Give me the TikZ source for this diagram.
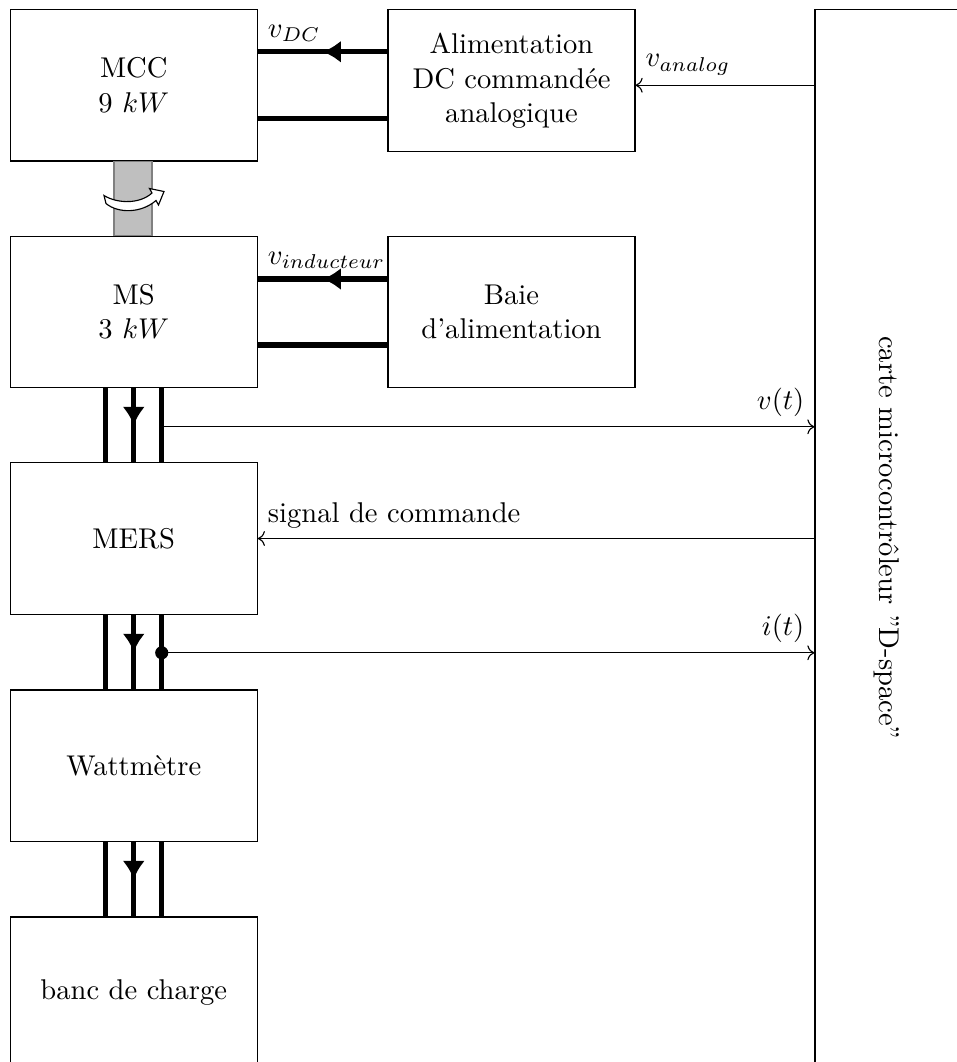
\documentclass[tikz,border=0pt]{standalone}
\usetikzlibrary{arrows.meta,decorations.markings,calc}
\begin{document}
\begin{tikzpicture}[x=0.35pt,y=-0.35pt,
  box/.style={draw, minimum width=86.45pt, minimum height=53pt, align=center, inner sep=0pt},
  power/.style={line width=1.9pt},
  midarrow/.style={decoration={markings, mark=at position 0.5 with {\arrow{Latex[length=6.4pt,width=7.8pt]}}}, postaction={decorate}},
  lbl/.style={inner sep=3.33pt}]
\useasboundingbox (0,0) rectangle (957,1062);
% blocks
\node[box] (MCC) at (133.75,85.25) {MCC\\9 $kW$};
\node[box, minimum height=49.7pt] (ALIM) at (511.5,80.75) {Alimentation\\DC commandée\\analogique};
\node[box] (MS) at (133.75,312) {MS\\3 $kW$};
\node[box] (BAIE) at (511.5,312) {Baie\\d'alimentation};
\node[box] (MERS) at (133.75,538.5) {MERS};
\node[box] (WATT) at (133.75,765.75) {Wattmètre};
\node[box] (BANC) at (133.75,992.75) {banc de charge};
\node[draw, minimum width=50.4pt, minimum height=369.8pt, inner sep=0pt] (DSP) at (887,537.75) {};
\node[rotate=-90] (DSPT) at (DSP.center) {carte microcontrôleur ''D-space''};
% shaft
\draw[fill=gray!50, draw=gray] ($(MCC.south)+(-19.75,0)$) rectangle ($(MS.north)+(18.25,0)$);
\draw[fill=white] (104,195.5) .. controls (118,204) and (140,204) .. (152,193)
  -- (149.5,188.5) -- (164,191.5) -- (158.5,205) -- (156,200.5)
  .. controls (141,213.5) and (118,213.5) .. (106,203.5) -- cycle;
% DC supply
\coordinate (a1) at ($(MCC.east)+(0,-33.5)$);
\coordinate (a2) at ($(MCC.east)+(0,33)$);
\draw[power, midarrow] (ALIM.west |- a1) -- (a1);
\draw[power] (ALIM.west |- a2) -- (a2);
\node[lbl, above right] (ldc) at (a1) {$v_{DC}$};
% field supply
\coordinate (b1) at ($(MS.east)+(0,-33)$);
\coordinate (b2) at ($(MS.east)+(0,33)$);
\draw[power, midarrow] (BAIE.west |- b1) -- (b1);
\draw[power] (BAIE.west |- b2) -- (b2);
\node[lbl, above right] (lind) at (b1) {$v_{inducteur}$};
% analog command
\draw[->] (DSP.west |- MCC.east) -- (ALIM.east |- MCC.east);
\node[lbl, above right] (lan) at (ALIM.east |- MCC.east) {$v_{analog}$};
% three-phase links
\foreach \up/\dn in {MS/MERS, MERS/WATT, WATT/BANC} {
  \draw[power] ($(\up.south)+(-28,0)$) -- ($(\dn.north)+(-28,0)$);
  \draw[power, midarrow] (\up.south) -- (\dn.north);
  \draw[power] ($(\up.south)+(28,0)$) -- ($(\dn.north)+(28,0)$);
}
% measurements
\coordinate (vt) at ($(MS.south)+(28,38.5)$);
\draw[->] (vt) -- (DSP.west |- vt);
\node[lbl, above left] (lvt) at (DSP.west |- vt) {$v(t)$};
\draw[->] (DSP.west |- MERS.east) -- (MERS.east);
\node[lbl, above right] (lsig) at (MERS.east) {signal de commande};
\coordinate (it) at ($(MERS.south)+(28,38)$);
\fill (it) circle (2.3pt);
\draw[->] (it) -- (DSP.west |- it);
\node[lbl, above left] (lit) at (DSP.west |- it) {$i(t)$};
\end{tikzpicture}
\end{document}
